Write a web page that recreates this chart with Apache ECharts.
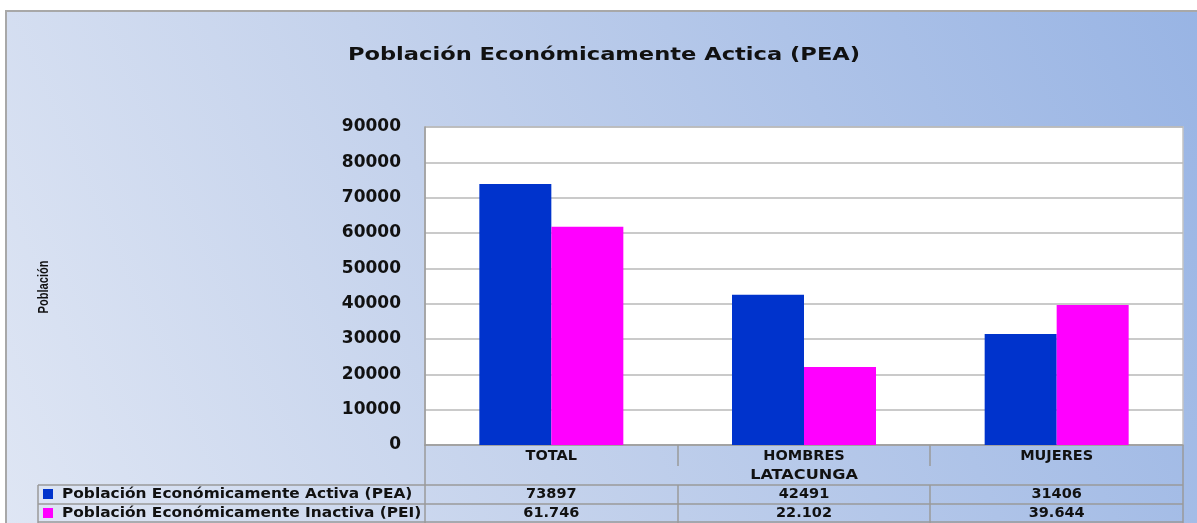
<!DOCTYPE html>
<html>
<head>
<meta charset="utf-8">
<script src="https://cdn.jsdelivr.net/npm/echarts@6/dist/echarts.min.js"></script>
<style>
  html, body { margin: 0; padding: 0; background: #fff; }
  #chart { width: 1197px; height: 523px; }
</style>
</head>
<body>
<div id="chart"></div>
<script>
const categories = ['TOTAL', 'HOMBRES', 'MUJERES'];
const groupLabel = 'LATACUNGA';
const seriesNames = ['Población Económicamente Activa (PEA)', 'Población Económicamente Inactiva (PEI)'];
const peaValues = [73897, 42491, 31406];
const peiValues = [61746, 22102, 39644];
const yTicks = [0, 10000, 20000, 30000, 40000, 50000, 60000, 70000, 80000, 90000];

const colors = ['#0033cc', '#ff00ff'];
const FONT = 'DejaVu Sans';
const lineColor = '#9a9a9a';

// plot box (px)
const G = { left: 425, right: 1183, top: 127, bottom: 445 };
const W = 1197, H = 523;
const colW = (G.right - G.left) / categories.length;

// PEI shown in the table with a dot as thousands separator
const dotFmt = (v) => String(v).replace(/\B(?=(\d{3})+(?!\d))/g, '.');

const chart = echarts.init(document.getElementById('chart'));

const line = (x1, y1, x2, y2) => ({
  type: 'line',
  shape: { x1, y1, x2, y2 },
  style: { stroke: lineColor, lineWidth: 1.5 },
  z: 10,
});

const tableLines = [
  line(38, 485, G.right, 485),
  line(38, 504, G.right, 504),
  line(38, 522, G.right, 522),
  line(38, 485, 38, 523),
  line(G.left, G.bottom, G.left, 523),
  line(G.right, G.bottom, G.right, 523),
];
for (let i = 1; i < categories.length; i++) {
  const x = Math.round(G.left + colW * i);
  tableLines.push(line(x, G.bottom, x, 466));
  tableLines.push(line(x, 485, x, 523));
}

// legend keys drawn inside the table rows
const legendItems = [];
seriesNames.forEach((name, i) => {
  const cy = 494 + i * 19;
  legendItems.push({
    type: 'rect',
    shape: { x: 43, y: cy - 5, width: 10, height: 10 },
    style: { fill: colors[i] },
    z: 10,
  });
  legendItems.push({
    type: 'text',
    x: 62,
    y: cy,
    scaleX: 1.1,
    style: {
      text: name,
      fontFamily: FONT, fontWeight: 'bold', fontSize: 14, fill: '#111',
      textAlign: 'left', textVerticalAlign: 'middle',
    },
    z: 10,
  });
});

const labelStyle = { fontFamily: FONT, fontWeight: 'bold', fontSize: 14.5, color: '#111' };

const option = {
  animation: false,
  grid: {
    left: G.left,
    right: W - G.right,
    top: G.top,
    bottom: H - G.bottom,
    show: true,
    backgroundColor: '#ffffff',
    borderColor: '#c4c4c4',
    borderWidth: 1.5,
  },
  xAxis: [
    {
      type: 'category',
      data: categories,
      axisLine: { show: true, lineStyle: { color: lineColor, width: 1.5 } },
      axisTick: { show: false },
      axisLabel: { margin: 4, ...labelStyle },
    },
    {
      type: 'category',
      position: 'bottom',
      offset: 40,
      data: categories,
      axisLine: { show: false },
      axisTick: { show: false },
      axisLabel: { margin: 2, ...labelStyle, formatter: (v, i) => String(peaValues[i]) },
    },
    {
      type: 'category',
      position: 'bottom',
      offset: 59,
      data: categories,
      axisLine: { show: false },
      axisTick: { show: false },
      axisLabel: { margin: 2, ...labelStyle, formatter: (v, i) => dotFmt(peiValues[i]) },
    },
  ],
  yAxis: {
    type: 'value',
    min: yTicks[0],
    max: yTicks[yTicks.length - 1],
    interval: yTicks[1] - yTicks[0],
    axisLine: { show: true, lineStyle: { color: lineColor, width: 1.5 } },
    axisTick: { show: false },
    axisLabel: {
      margin: 24, fontFamily: FONT, fontWeight: 'bold', fontSize: 17, color: '#111',
      formatter: (v) => String(v),
    },
    splitLine: { lineStyle: { color: '#b8b8b8', width: 1.5 } },
  },
  graphic: [
    {
      type: 'rect',
      shape: { x: 6, y: 11, width: W, height: H },
      style: {
        fill: new echarts.graphic.LinearGradient(0, 1, 1, 0, [
          { offset: 0, color: '#dfe6f4' },
          { offset: 0.4, color: '#c4d2ec' },
          { offset: 1, color: '#98b4e4' },
        ]),
        stroke: '#a8a8a8',
        lineWidth: 2,
      },
      z: -10,
      silent: true,
    },
    {
      type: 'text',
      x: 604,
      y: 55,
      scaleX: 1.22,
      style: {
        text: 'Población Económicamente Actica (PEA)',
        fontFamily: FONT, fontWeight: 'bold', fontSize: 18.5, fill: '#111',
        textAlign: 'center', textVerticalAlign: 'middle',
      },
      z: 10,
    },
    {
      type: 'text',
      x: 44,
      y: 287,
      rotation: Math.PI / 2,
      scaleX: 0.74,
      style: {
        text: 'Población',
        fontFamily: 'Liberation Sans', fontWeight: 'bold', fontSize: 15, fill: '#111',
        textAlign: 'center', textVerticalAlign: 'middle',
      },
      z: 10,
    },
    {
      type: 'text',
      x: (G.left + G.right) / 2,
      y: 475,
      scaleX: 1.15,
      style: {
        text: groupLabel,
        fontFamily: FONT, fontWeight: 'bold', fontSize: 14, fill: '#111',
        textAlign: 'center', textVerticalAlign: 'middle',
      },
      z: 10,
    },
    ...tableLines,
    ...legendItems,
  ],
  series: [
    {
      name: seriesNames[0],
      type: 'bar',
      data: peaValues,
      barWidth: 72,
      barGap: '0%',
      itemStyle: { color: colors[0] },
    },
    {
      name: seriesNames[1],
      type: 'bar',
      data: peiValues,
      barWidth: 72,
      itemStyle: { color: colors[1] },
    },
  ],
};

chart.setOption(option);
</script>
</body>
</html>
